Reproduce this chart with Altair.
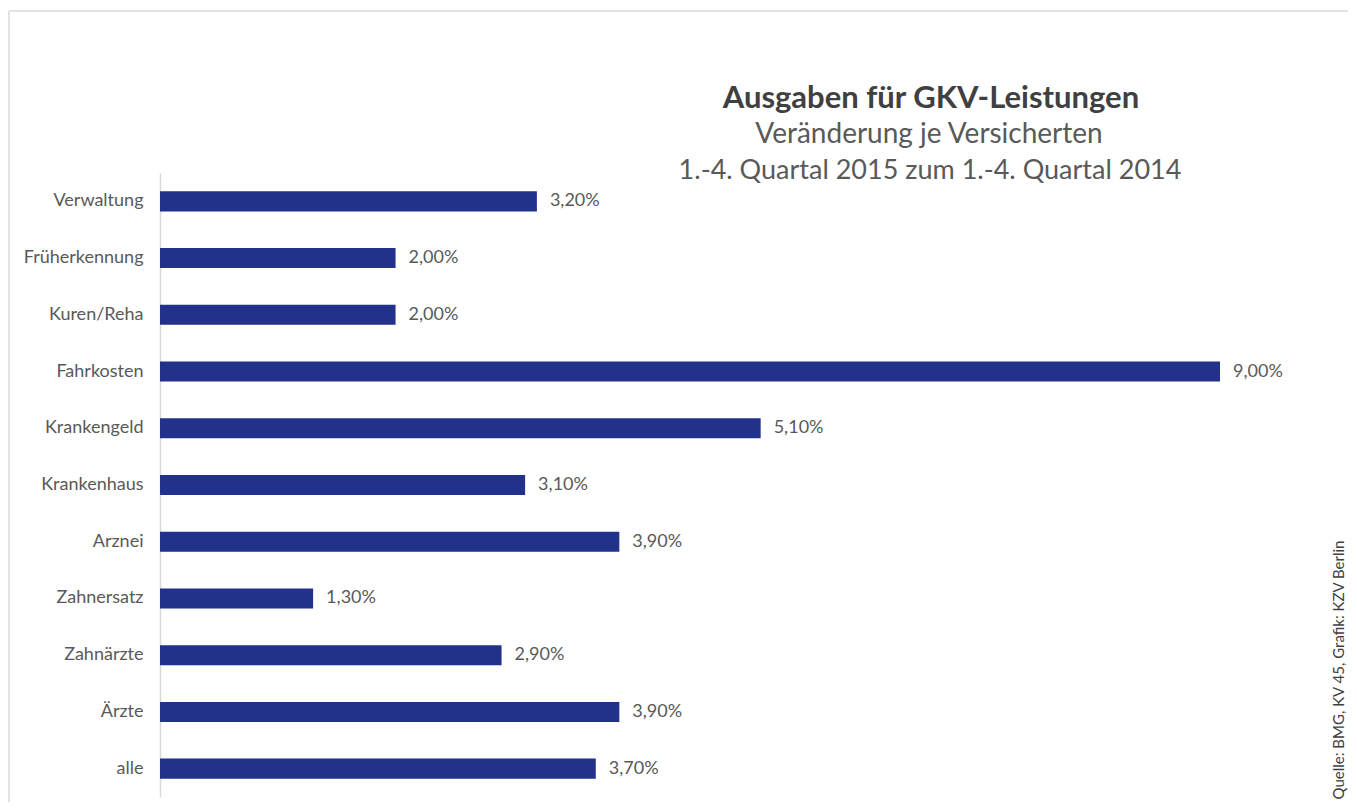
import altair as alt
import pandas as pd

categories = ["Verwaltung", "Früherkennung", "Kuren/Reha", "Fahrkosten", "Krankengeld",
              "Krankenhaus", "Arznei", "Zahnersatz", "Zahnärzte", "Ärzte", "alle"]
values = [3.2, 2.0, 2.0, 9.0, 5.1, 3.1, 3.9, 1.3, 2.9, 3.9, 3.7]
labels = [f"{v:.2f}".replace(".", ",") + "%" for v in values]

title_text = "Ausgaben für GKV-Leistungen"
subtitle_lines = ["Veränderung je Versicherten", "1.-4. Quartal 2015 zum 1.-4. Quartal 2014"]
source_text = "Quelle: BMG, KV 45, Grafik: KZV Berlin"

df = pd.DataFrame({"cat": categories, "val": values, "lab": labels})

FONT = "Lato"
GRAY = "#595959"

base = alt.Chart(df)
y_enc = alt.Y("cat:N", sort=categories,
              scale=alt.Scale(paddingInner=0.647, paddingOuter=0.3235),
              axis=alt.Axis(title=None, ticks=False, domainColor="#d9d9d9", domainWidth=1.5,
                            labelFont=FONT, labelFontSize=18, labelColor=GRAY,
                            labelPadding=17))
x_enc = alt.X("val:Q", scale=alt.Scale(domain=[0, 9], nice=False, zero=True), axis=None)

bars = base.mark_bar(color="#22318a").encode(x=x_enc, y=y_enc)
texts = base.mark_text(align="left", baseline="middle", dx=13, font=FONT, fontSize=18,
                       color=GRAY).encode(x=x_enc, y=alt.Y("cat:N", sort=categories), text="lab:N")

title = alt.Chart(pd.DataFrame({"t": [title_text]})).mark_text(
    align="center", baseline="alphabetic", font=FONT, fontSize=31, fontWeight="bold",
    color="#404040").encode(x=alt.value(771), y=alt.value(-64.6), text="t:N")
sub1 = alt.Chart(pd.DataFrame({"t": [subtitle_lines[0]]})).mark_text(
    align="center", baseline="alphabetic", font=FONT, fontSize=28,
    color=GRAY).encode(x=alt.value(769), y=alt.value(-29.6), text="t:N")
sub2 = alt.Chart(pd.DataFrame({"t": [subtitle_lines[1]]})).mark_text(
    align="center", baseline="alphabetic", font=FONT, fontSize=27,
    color=GRAY).encode(x=alt.value(770), y=alt.value(6.4), text="t:N")
source = alt.Chart(pd.DataFrame({"t": [source_text]})).mark_text(
    align="center", baseline="middle", angle=270, font=FONT, fontSize=15,
    color="#404040").encode(x=alt.value(1179), y=alt.value(497), text="t:N")

frame_top = alt.Chart(pd.DataFrame({"a": [0]})).mark_rule(color="#e3e3e3", strokeWidth=2).encode(
    x=alt.value(-151), x2=alt.value(1200), y=alt.value(-162))
frame_left = alt.Chart(pd.DataFrame({"a": [0]})).mark_rule(color="#e3e3e3", strokeWidth=2).encode(
    x=alt.value(-151), y=alt.value(-162), y2=alt.value(640))

chart = alt.layer(frame_top, frame_left, bars, texts, title, sub1, sub2, source).properties(
    width=1060, height=624,
    autosize=alt.AutoSizeParams(type="none"),
    padding={"left": 152, "top": 165, "right": 128, "bottom": 5},
    view=alt.ViewBackground(stroke="transparent", strokeWidth=0),
).configure_view(stroke="transparent", strokeWidth=0).configure(background="white")

chart.save("out.html", embed_options={"renderer": "svg", "actions": False})
